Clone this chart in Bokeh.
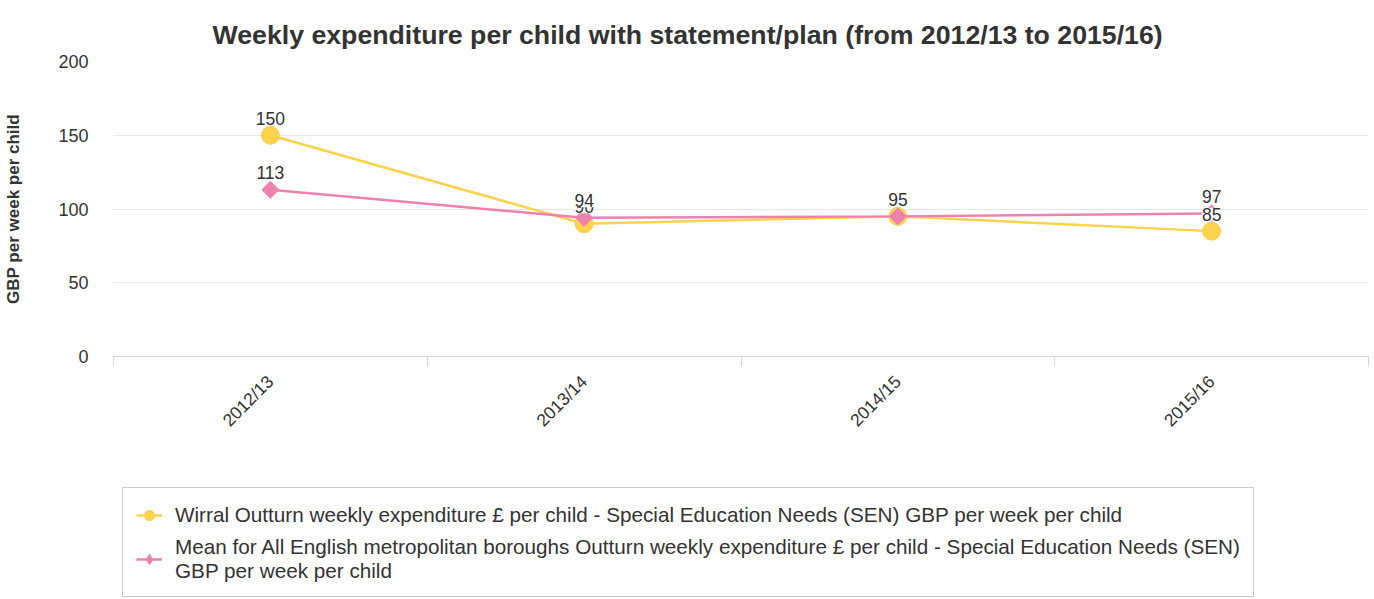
import math
from bokeh.plotting import figure
from bokeh.layouts import column
from bokeh.models import (Range1d, FixedTicker, Legend, LegendItem, ColumnDataSource)
from bokeh.embed import file_html
from bokeh.resources import INLINE
from bokeh.core.properties import value

categories = ["2012/13", "2013/14", "2014/15", "2015/16"]
wirral = [150, 90, 95, 85]
mean_met = [113, 94, 95, 97]
wirral_name = "Wirral Outturn weekly expenditure £ per child - Special Education Needs (SEN) GBP per week per child"
mean_name = ("Mean for All English metropolitan boroughs Outturn weekly expenditure £ per child - Special Education Needs (SEN)\n"
             "GBP per week per child")
title_text = "Weekly expenditure per child with statement/plan (from 2012/13 to 2015/16)"
y_title = "GBP per week per child"
y_ticks = [0, 50, 100, 150, 200]

YELLOW = "#FBD24E"
PINK = "#EE82AE"
TXT = "#333333"
FONT = "Liberation Sans"

xs = list(range(len(categories)))

p = figure(output_backend="svg", toolbar_location=None,
           width=1372, height=478,
           min_border_left=113, min_border_right=4, min_border_top=61, min_border_bottom=122,
           x_range=Range1d(-0.5, len(categories) - 0.5), y_range=Range1d(0, 200),
           title=title_text)
p.outline_line_color = None
p.background_fill_color = "white"

p.title.text_font = FONT
p.title.text_font_size = "26.7px"
p.title.text_font_style = "bold"
p.title.text_color = TXT
p.title.align = "left"
p.title.offset = 99
p.title.standoff = 23

# y axis
p.yaxis.ticker = FixedTicker(ticks=y_ticks)
p.yaxis.axis_line_color = None
p.yaxis.major_tick_line_color = None
p.yaxis.minor_tick_line_color = None
p.yaxis.major_tick_out = 0
p.yaxis.major_tick_in = 0
p.yaxis.major_label_standoff = 25
p.yaxis.major_label_text_font = FONT
p.yaxis.major_label_text_font_size = "18px"
p.yaxis.major_label_text_color = TXT
p.yaxis.axis_label = y_title
p.yaxis.axis_label_text_font = FONT
p.yaxis.axis_label_text_font_size = "17px"
p.yaxis.axis_label_text_font_style = "bold"
p.yaxis.axis_label_text_color = TXT
p.yaxis.axis_label_standoff = 32

# x axis
p.xaxis.ticker = FixedTicker(ticks=xs, minor_ticks=[i - 0.5 for i in range(len(categories) + 1)])
p.xaxis.major_label_overrides = {i: c for i, c in enumerate(categories)}
p.xaxis.axis_line_color = "#ccd6eb"
p.xaxis.axis_line_width = 1
p.xaxis.major_tick_line_color = None
p.xaxis.major_tick_out = 0
p.xaxis.major_tick_in = 0
p.xaxis.minor_tick_line_color = "#ccd6eb"
p.xaxis.minor_tick_out = 10
p.xaxis.minor_tick_in = 0
p.xaxis.major_label_orientation = math.pi / 4
p.xaxis.major_label_standoff = 12
p.xaxis.major_label_text_font = FONT
p.xaxis.major_label_text_font_size = "17.5px"
p.xaxis.major_label_text_color = TXT

p.xgrid.grid_line_color = None
p.ygrid.grid_line_color = "#e6e6e6"
p.ygrid.grid_line_width = 1

src_w = ColumnDataSource(dict(x=xs, y=wirral, t=[str(v) for v in wirral]))
src_m = ColumnDataSource(dict(x=xs, y=mean_met, t=[str(v) for v in mean_met]))

line_w = dict(line_color=YELLOW, line_width=2.5)
mark_w = dict(marker="circle", size=18, fill_color=YELLOW, line_color=YELLOW)
line_m = dict(line_color=PINK, line_width=2.5)
mark_m = dict(marker="square", angle=math.pi / 4, size=12, fill_color=PINK, line_color=PINK)

p.line("x", "y", source=src_w, **line_w)
p.scatter("x", "y", source=src_w, **mark_w)
p.line("x", "y", source=src_m, **line_m)
p.scatter("x", "y", source=src_m, **mark_m)

# data labels (Wirral label hidden where it coincides with the mean's label)
wl = [(x, v) for x, v, m in zip(xs, wirral, mean_met) if v != m]
src_wl = ColumnDataSource(dict(x=[a for a, _ in wl], y=[b for _, b in wl], t=[str(b) for _, b in wl]))
for src in (src_wl, src_m):
    p.text("x", "y", text="t", source=src, y_offset=-17, text_align="center", text_baseline="middle",
           text_font=value(FONT), text_font_size="17.5px", text_color=TXT,
           background_fill_color="white", padding=0)

# legend panel below the chart (its series renderers lie outside its visible range)
lg = figure(output_backend="svg", toolbar_location=None, width=1372, height=121,
            min_border_left=108, min_border_right=0, min_border_top=0, min_border_bottom=0,
            x_range=Range1d(100, 101), y_range=Range1d(1000, 1001))
lg.axis.visible = False
lg.grid.visible = False
lg.outline_line_color = None
lw = lg.line("x", "y", source=src_w, **line_w)
sw = lg.scatter("x", "y", source=src_w, **mark_w)
lm = lg.line("x", "y", source=src_m, **line_m)
sm = lg.scatter("x", "y", source=src_m, marker="diamond", size=18, fill_color=PINK, line_color=PINK)

legend = Legend(items=[LegendItem(label=wirral_name, renderers=[lw, sw]),
                       LegendItem(label=mean_name, renderers=[lm, sm])],
                location="top_left", orientation="vertical")
legend.label_text_font = FONT
legend.label_text_font_size = "20.7px"
legend.label_text_color = TXT
legend.label_text_line_height = 1.25
legend.border_line_color = "#999999"
legend.border_line_width = 1
legend.padding = 13
legend.spacing = 6
legend.glyph_width = 26
legend.glyph_height = 28
legend.label_standoff = 13
legend.margin = 9
lg.add_layout(legend, "center")

layout = column(p, lg, spacing=0)
open("out.html", "w").write(file_html(layout, INLINE))
